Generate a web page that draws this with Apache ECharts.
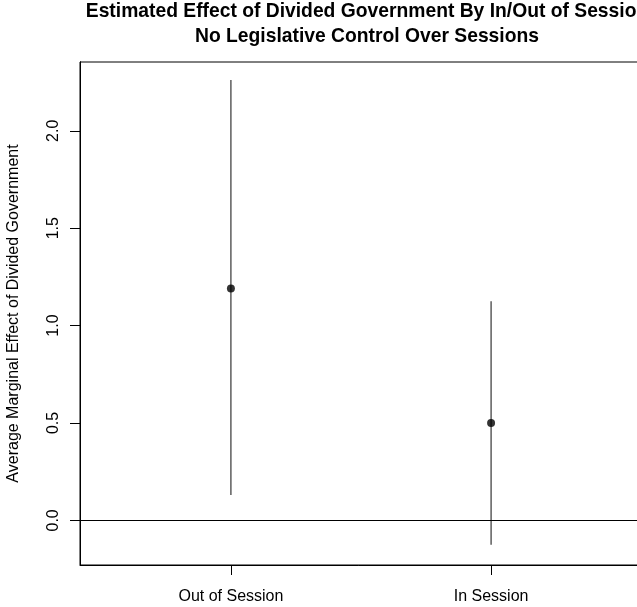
<!DOCTYPE html>
<html>
<head>
<meta charset="utf-8">
<script src="https://cdn.jsdelivr.net/npm/echarts@6/dist/echarts.min.js"></script>
<style>
  html, body { margin: 0; padding: 0; background: #fff; }
  #chart { width: 637px; height: 607px; }
</style>
</head>
<body>
<div id="chart"></div>
<script>
// Session categories and their positions along the x axis
const categories = ['Out of Session', 'In Session'];
const positions = [1, 2];

// Average marginal effect of divided government with confidence bounds
const estimates = [1.19, 0.50];
const lower = [0.13, -0.125];
const upper = [2.26, 1.125];

// Tick values for the y axis
const yTicks = [0, 0.5, 1.0, 1.5, 2.0];

// Axis extents (data range padded by 4% on each side)
const X_MIN = 0.42, X_MAX = 2.58;
const Y_MIN = -0.229, Y_MAX = 2.353;

const FONT = '"Liberation Sans", Arial, Helvetica, sans-serif';

const chart = echarts.init(document.getElementById('chart'), null, { renderer: 'canvas' });

const barData = positions.map((p, i) => [p, lower[i], upper[i]]);
const pointData = positions.map((p, i) => [p, estimates[i]]);

chart.setOption({
  animation: false,
  backgroundColor: '#ffffff',
  title: {
    text: 'Estimated Effect of Divided Government By In/Out of Session\nNo Legislative Control Over Sessions',
    left: 362,
    top: -6,
    textAlign: 'center',
    textStyle: {
      fontFamily: FONT,
      fontWeight: 'bold',
      fontSize: 19.3,
      lineHeight: 25,
      color: '#000'
    }
  },
  grid: {
    left: 80,
    right: -5,
    top: 62,
    bottom: 42,
    outerBoundsMode: 'none',
    show: true,
    borderColor: '#000',
    borderWidth: 1
  },
  xAxis: {
    type: 'value',
    min: X_MIN,
    max: X_MAX,
    splitLine: { show: false },
    axisLine: { show: true, onZero: false, lineStyle: { color: '#000', width: 1 } },
    axisTick: {
      show: true,
      customValues: positions,
      length: 10,
      lineStyle: { color: '#000', width: 1 }
    },
    axisLabel: {
      customValues: positions,
      formatter: (v) => categories[positions.indexOf(v)] || '',
      margin: 24,
      fontFamily: FONT,
      fontSize: 16,
      color: '#000'
    }
  },
  yAxis: [
    {
      // value axis with labels and title
      type: 'value',
      min: Y_MIN,
      max: Y_MAX,
      position: 'left',
      name: 'Average Marginal Effect of Divided Government',
      nameLocation: 'middle',
      nameRotate: 90,
      nameGap: 58,
      nameTextStyle: {
        fontFamily: FONT,
        fontSize: 16,
        color: '#000'
      },
      splitLine: { show: false },
      axisLine: { show: true, onZero: false, lineStyle: { color: '#000', width: 1 } },
      axisTick: { show: false },
      axisLabel: {
        customValues: yTicks,
        rotate: 90,
        formatter: (v) => v.toFixed(1),
        margin: 18,
        fontFamily: FONT,
        fontSize: 16,
        color: '#000'
      }
    },
    {
      // same scale, carrying only the outward tick marks
      type: 'value',
      min: Y_MIN,
      max: Y_MAX,
      position: 'left',
      offset: 0,
      splitLine: { show: false },
      axisLine: { show: true, onZero: false, lineStyle: { color: '#000', width: 1 } },
      axisTick: {
        show: true,
        customValues: yTicks,
        length: 10,
        lineStyle: { color: '#000', width: 1 }
      },
      axisLabel: { show: false }
    }
  ],
  series: [
    {
      type: 'custom',
      name: 'interval',
      data: barData,
      renderItem: function (params, api) {
        const x = api.value(0);
        const p1 = api.coord([x, api.value(1)]);
        const p2 = api.coord([x, api.value(2)]);
        return {
          type: 'line',
          shape: { x1: p1[0], y1: p1[1], x2: p2[0], y2: p2[1] },
          style: { stroke: '#444', lineWidth: 1.3 }
        };
      },
      markLine: {
        silent: true,
        symbol: 'none',
        label: { show: false },
        lineStyle: { color: '#000', width: 1, type: 'solid' },
        data: [{ yAxis: 0 }]
      },
      z: 2
    },
    {
      type: 'scatter',
      name: 'estimate',
      data: pointData,
      symbol: 'circle',
      symbolSize: 8,
      itemStyle: { color: '#000' },
      z: 3
    }
  ]
});
</script>
</body>
</html>
